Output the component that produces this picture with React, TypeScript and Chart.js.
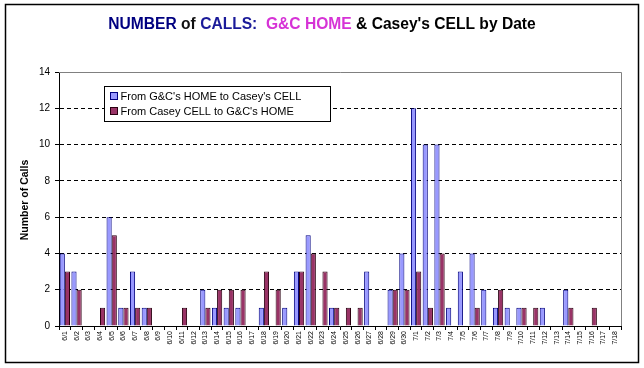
import React, { useEffect, useRef } from "react";
import { Chart, registerables } from "chart.js";

Chart.register(...registerables);

const dates = [
  "6/1", "6/2", "6/3", "6/4", "6/5", "6/6", "6/7", "6/8", "6/9", "6/10",
  "6/11", "6/12", "6/13", "6/14", "6/15", "6/16", "6/17", "6/18", "6/19", "6/20",
  "6/21", "6/22", "6/23", "6/24", "6/25", "6/26", "6/27", "6/28", "6/29", "6/30",
  "7/1", "7/2", "7/3", "7/4", "7/5", "7/6", "7/7", "7/8", "7/9", "7/10",
  "7/11", "7/12", "7/13", "7/14", "7/15", "7/16", "7/17", "7/18",
];

const homeToCell = [
  4, 3, 0, 0, 6, 1, 3, 1, 0, 0,
  0, 0, 2, 1, 1, 1, 0, 1, 0, 1,
  3, 5, 0, 1, 0, 0, 3, 0, 2, 4,
  12, 10, 10, 1, 3, 4, 2, 1, 1, 1,
  0, 1, 0, 2, 0, 0, 0, 0,
];

const cellToHome = [
  3, 2, 0, 1, 5, 1, 1, 1, 0, 0,
  1, 0, 1, 2, 2, 2, 0, 3, 2, 0,
  3, 4, 3, 1, 1, 1, 0, 0, 2, 2,
  3, 1, 4, 0, 0, 1, 0, 2, 0, 1,
  1, 0, 0, 1, 0, 1, 0, 0,
];

const seriesNames = ["From G&C's HOME to Casey's CELL", "From Casey CELL to G&C's HOME"];
const yMax = 14;
const yStep = 2;

const titleParts: [string, string][] = [
  ["NUMBER", "#000080"],
  [" of ", "#111111"],
  ["CALLS:", "#1a1a99"],
  ["  ", "#000000"],
  ["G&C HOME", "#D633D6"],
  [" & Casey's CELL by Date", "#000000"],
];

const BLUE_FILL = "#9999FF";
const BLUE_BORDER = "#000080";
const RED_FILL = "#993366";
const RED_BORDER = "#2a0010";
const FONT = "Arial, 'Liberation Sans', sans-serif";

const decorPlugin = {
  id: "decor",
  beforeDraw(chart: any) {
    const { ctx, width, height } = chart;
    ctx.save();
    ctx.fillStyle = "#ffffff";
    ctx.fillRect(0, 0, width, height);
    ctx.restore();
  },
  afterDraw(chart: any) {
    const { ctx, chartArea } = chart;
    ctx.save();
    // outer frame
    ctx.strokeStyle = "#000000";
    ctx.lineWidth = 1.5;
    ctx.strokeRect(5.5, 4.5, 633, 358);
    ctx.lineWidth = 1;

    // plot area top/right border (gray)
    ctx.strokeStyle = "#808080";
    ctx.beginPath();
    ctx.moveTo(chartArea.left, Math.round(chartArea.top) + 0.5);
    ctx.lineTo(Math.round(chartArea.right) + 0.5, Math.round(chartArea.top) + 0.5);
    ctx.lineTo(Math.round(chartArea.right) + 0.5, chartArea.bottom);
    ctx.stroke();

    // title
    ctx.font = `bold 15.6px ${FONT}`;
    ctx.textBaseline = "alphabetic";
    let total = 0;
    for (const [t] of titleParts) total += ctx.measureText(t).width;
    let x = 322 - total / 2;
    for (const [t, c] of titleParts) {
      ctx.fillStyle = c;
      ctx.fillText(t, x, 29);
      x += ctx.measureText(t).width;
    }

    // y axis title
    ctx.save();
    ctx.translate(25, 200);
    ctx.rotate(-Math.PI / 2);
    ctx.font = `bold 10.5px ${FONT}`;
    ctx.fillStyle = "#000000";
    ctx.textAlign = "center";
    ctx.textBaseline = "middle";
    ctx.fillText("Number of Calls", 0, 0);
    ctx.restore();

    // legend
    const lx = chartArea.left + 45.5;
    const ly = chartArea.top + 14.5;
    const lw = 226;
    const lh = 35;
    ctx.fillStyle = "#ffffff";
    ctx.fillRect(lx, ly, lw, lh);
    ctx.strokeStyle = "#000000";
    ctx.strokeRect(lx, ly, lw, lh);
    ctx.font = `11px ${FONT}`;
    ctx.textBaseline = "middle";
    const fills = [BLUE_FILL, RED_FILL];
    const borders = [BLUE_BORDER, RED_BORDER];
    for (let i = 0; i < seriesNames.length; i++) {
      const cy = ly + 10 + i * 15;
      ctx.fillStyle = fills[i];
      ctx.fillRect(lx + 6, cy - 4, 7, 7);
      ctx.strokeStyle = borders[i];
      ctx.strokeRect(lx + 6, cy - 4, 7, 7);
      ctx.fillStyle = "#000000";
      ctx.fillText(seriesNames[i], lx + 16, cy);
    }
    ctx.restore();
  },
};

export default function App() {
  const ref = useRef<HTMLCanvasElement | null>(null);

  useEffect(() => {
    document.body.style.margin = "0";
    const canvas = ref.current;
    if (!canvas) return;
    const chart = new Chart(canvas, {
      type: "bar",
      data: {
        labels: dates,
        datasets: [
          {
            label: seriesNames[0],
            data: homeToCell,
            backgroundColor: BLUE_FILL,
            borderColor: BLUE_BORDER,
            borderWidth: 1,
            categoryPercentage: 0.88,
            barPercentage: 1,
          },
          {
            label: seriesNames[1],
            data: cellToHome,
            backgroundColor: RED_FILL,
            borderColor: RED_BORDER,
            borderWidth: 1,
            categoryPercentage: 0.88,
            barPercentage: 1,
          },
        ],
      },
      options: {
        responsive: false,
        animation: false,
        devicePixelRatio: 1,
        layout: { padding: { top: 72, right: 23, left: 0, bottom: 0 } },
        plugins: {
          legend: { display: false },
          title: { display: false },
          tooltip: { enabled: false },
        },
        scales: {
          x: {
            afterFit: (scale: any) => {
              scale.height = 42;
            },
            grid: {
              offset: true,
              drawOnChartArea: false,
              drawTicks: true,
              tickLength: 4,
              tickColor: "#000000",
              color: "#000000",
            },
            border: { display: true, color: "#000000", width: 1 },
            ticks: {
              autoSkip: false,
              maxRotation: 90,
              minRotation: 90,
              padding: 1,
              color: "#000000",
              font: { size: 7, family: FONT },
            },
          },
          y: {
            min: 0,
            max: yMax,
            afterFit: (scale: any) => {
              scale.width = 59;
            },
            grid: {
              color: (c: any) => (c.tick && (c.tick.value === 0 || c.tick.value === yMax) ? "rgba(0,0,0,0)" : "#000000"),
              lineWidth: 1,
              drawTicks: true,
              tickLength: 4,
              tickColor: "#000000",
              borderDash: [4, 3],
            } as any,
            border: { display: true, color: "#000000", width: 1, dash: [4, 3] },
            ticks: {
              stepSize: yStep,
              padding: 5,
              color: "#000000",
              font: { size: 10, family: FONT },
            },
          },
        },
      } as any,
      plugins: [decorPlugin],
    });
    return () => chart.destroy();
  }, []);

  return (
    <div style={{ width: 644, height: 368 }}>
      <canvas ref={ref} width={644} height={368} style={{ display: "block" }} />
    </div>
  );
}
